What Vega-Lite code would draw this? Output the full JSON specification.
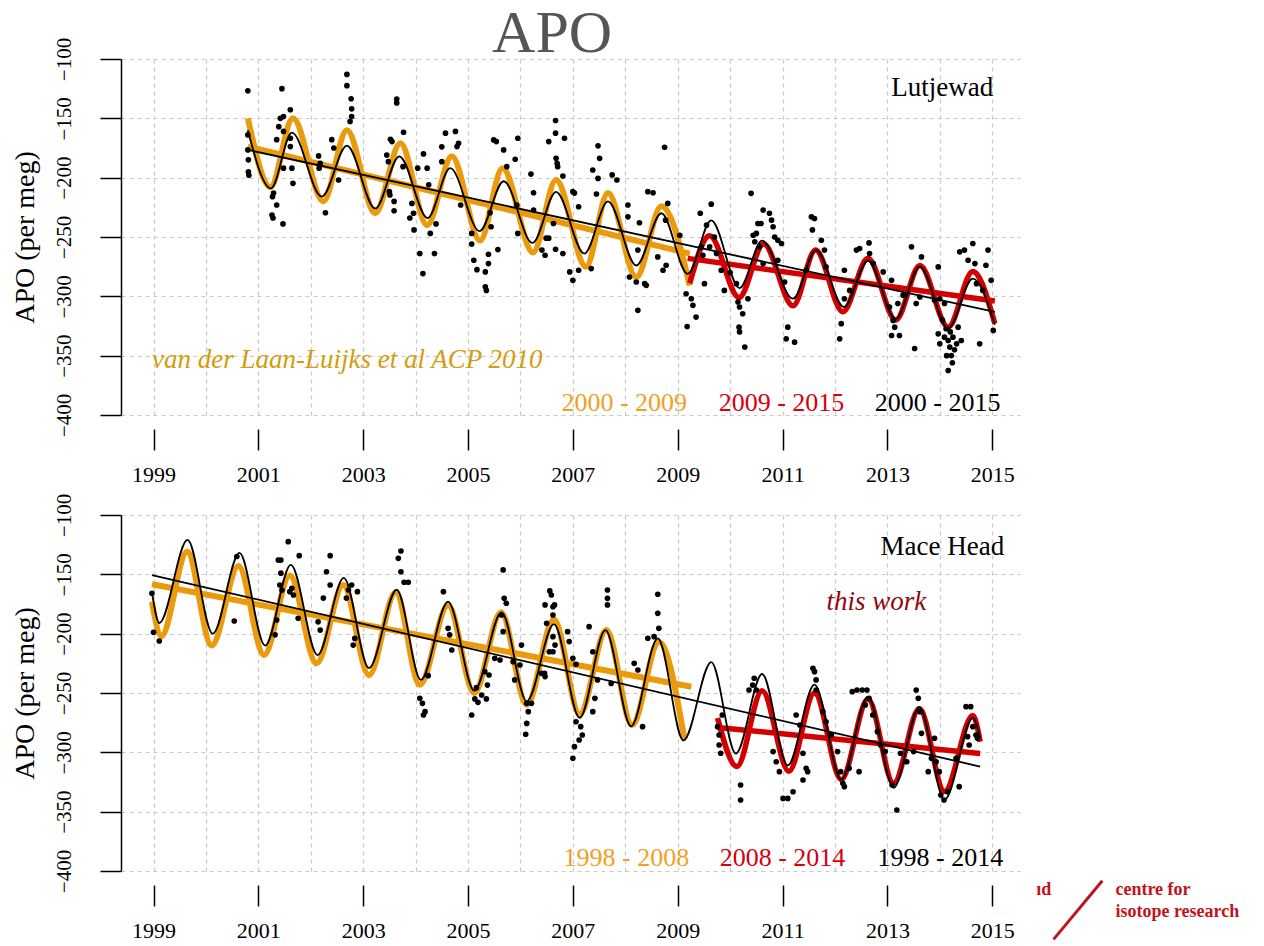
{
  "$schema": "https://vega.github.io/schema/vega-lite/v6.json",
  "padding": {"left": 11, "top": 4, "right": 5, "bottom": 5},
  "config": {
    "font": "Liberation Serif",
    "view": {"stroke": null},
    "axis": {"gridColor": "#c8c8c8", "gridDash": [4, 4], "gridWidth": 1.2, "domainColor": "#000", "tickColor": "#000", "labelColor": "#000", "titleColor": "#000", "labelFont": "Liberation Serif", "titleFont": "Liberation Serif", "titleFontWeight": "normal"}
  },
  "title": {"text": "APO", "fontSize": 60, "font": "Liberation Serif", "fontWeight": "normal", "color": "#555555", "anchor": "middle", "dx": -73, "baseline": "alphabetic", "offset": -75},
  "spacing": 100,
  "bounds": "flush",
  "datasets": {
    "lut_points": [
      {"year":2000.80,"apo":-126.8},{"year":2000.80,"apo":-164},{"year":2000.80,"apo":-176.6},{"year":2000.81,"apo":-185},{"year":2000.81,"apo":-195},{"year":2000.82,"apo":-198},
      {"year":2001.45,"apo":-125},{"year":2001.61,"apo":-142.8},{"year":2001.48,"apo":-148.5},{"year":2001.42,"apo":-150},{"year":2001.39,"apo":-157},{"year":2001.35,"apo":-168},
      {"year":2001.48,"apo":-161},{"year":2001.61,"apo":-166.8},{"year":2001.61,"apo":-173.8},{"year":2001.48,"apo":-192},{"year":2001.64,"apo":-192},{"year":2001.66,"apo":-204.8},
      {"year":2001.29,"apo":-213},{"year":2001.27,"apo":-216},{"year":2001.35,"apo":-223},{"year":2001.26,"apo":-231.5},{"year":2001.28,"apo":-234},{"year":2001.47,"apo":-239},
      {"year":2002.15,"apo":-181.7},{"year":2002.18,"apo":-188},{"year":2002.16,"apo":-192},{"year":2002.40,"apo":-168},{"year":2002.44,"apo":-175},{"year":2002.53,"apo":-202},
      {"year":2002.28,"apo":-229.6},{"year":2002.69,"apo":-113},{"year":2002.69,"apo":-122.5},{"year":2002.77,"apo":-133.5},{"year":2002.78,"apo":-142},{"year":2002.78,"apo":-148.5},
      {"year":2002.75,"apo":-152.7},{"year":2003.52,"apo":-167.6},{"year":2003.55,"apo":-169.6},{"year":2003.77,"apo":-161.7},{"year":2003.45,"apo":-181},{"year":2003.48,"apo":-186.5},
      {"year":2003.50,"apo":-211.8},{"year":2003.51,"apo":-214.6},{"year":2003.59,"apo":-220},{"year":2003.59,"apo":-227.9},{"year":2003.64,"apo":-133.8},{"year":2003.64,"apo":-137},
      {"year":2003.76,"apo":-190.7},{"year":2004.04,"apo":-192},{"year":2004.22,"apo":-192},{"year":2004.15,"apo":-180},{"year":2004.25,"apo":-206},{"year":2003.93,"apo":-221.7},
      {"year":2003.96,"apo":-230},{"year":2003.89,"apo":-234},{"year":2003.97,"apo":-244},{"year":2004.08,"apo":-264},{"year":2004.14,"apo":-280.8},{"year":2004.36,"apo":-264},
      {"year":2004.28,"apo":-247},{"year":2004.39,"apo":-239},{"year":2004.50,"apo":-174},{"year":2004.50,"apo":-186.5},{"year":2004.57,"apo":-162.5},{"year":2004.76,"apo":-161},
      {"year":2004.79,"apo":-173.8},{"year":2004.82,"apo":-171},{"year":2004.86,"apo":-223},{"year":2005.07,"apo":-247},{"year":2005.07,"apo":-256},{"year":2005.11,"apo":-269.6},
      {"year":2005.17,"apo":-277.5},{"year":2005.33,"apo":-279.4},{"year":2005.39,"apo":-272.4},{"year":2005.39,"apo":-264.5},{"year":2005.33,"apo":-292},{"year":2005.35,"apo":-295},
      {"year":2005.42,"apo":-229.6},{"year":2005.44,"apo":-241.4},{"year":2005.57,"apo":-260.6},{"year":2005.49,"apo":-168.2},{"year":2005.54,"apo":-169.6},{"year":2005.68,"apo":-176.6},
      {"year":2005.74,"apo":-190.7},{"year":2005.90,"apo":-184.5},{"year":2005.95,"apo":-166.8},{"year":2005.93,"apo":-223},{"year":2005.95,"apo":-247},{"year":2006.25,"apo":-212.7},
      {"year":2006.20,"apo":-197},{"year":2006.25,"apo":-227.3},{"year":2006.41,"apo":-261},{"year":2006.47,"apo":-265.4},{"year":2006.54,"apo":-251},{"year":2006.54,"apo":-169.6},
      {"year":2006.67,"apo":-151.8},{"year":2006.67,"apo":-162.5},{"year":2006.68,"apo":-183.7},{"year":2006.70,"apo":-188},{"year":2006.63,"apo":-238.6},{"year":2006.67,"apo":-260.3},
      {"year":2006.84,"apo":-166.8},{"year":2006.71,"apo":-190.7},{"year":2006.81,"apo":-198.6},{"year":2006.49,"apo":-251},{"year":2006.81,"apo":-264},{"year":2007.00,"apo":-211.8},
      {"year":2007.03,"apo":-213},{"year":2007.11,"apo":-224.5},{"year":2006.94,"apo":-279.4},{"year":2007.00,"apo":-286.5},{"year":2007.11,"apo":-278},{"year":2007.35,"apo":-276.6},
      {"year":2007.48,"apo":-173.2},{"year":2007.51,"apo":-183.7},{"year":2007.38,"apo":-193.5},{"year":2007.48,"apo":-200.6},{"year":2007.45,"apo":-213.8},{"year":2007.75,"apo":-197.7},
      {"year":2007.84,"apo":-202},{"year":2008.05,"apo":-223},{"year":2008.05,"apo":-233},{"year":2008.08,"apo":-283.7},{"year":2008.21,"apo":-287.9},{"year":2008.27,"apo":-238},
      {"year":2008.24,"apo":-261},{"year":2008.37,"apo":-289.3},{"year":2008.40,"apo":-290.7},{"year":2008.24,"apo":-311.8},{"year":2008.43,"apo":-211.8},{"year":2008.53,"apo":-212.7},
      {"year":2008.62,"apo":-266.8},{"year":2008.72,"apo":-278},{"year":2008.78,"apo":-273.8},{"year":2008.75,"apo":-174.4},{"year":2008.81,"apo":-221.7},{"year":2008.77,"apo":-235.8},
      {"year":2009.04,"apo":-248.5},{"year":2009.16,"apo":-297.8},{"year":2009.26,"apo":-302},{"year":2009.29,"apo":-307.6},{"year":2009.35,"apo":-317.5},{"year":2009.18,"apo":-325.4},
      {"year":2009.43,"apo":-230},{"year":2009.64,"apo":-222.3},{"year":2009.45,"apo":-258.3},{"year":2009.48,"apo":-265.4},{"year":2009.51,"apo":-289.3},{"year":2009.61,"apo":-258.3},
      {"year":2009.74,"apo":-264},{"year":2009.83,"apo":-278},{"year":2009.89,"apo":-295},{"year":2009.55,"apo":-240},{"year":2009.70,"apo":-250},{"year":2010.00,"apo":-280},
      {"year":2010.12,"apo":-289.3},{"year":2010.15,"apo":-304.8},{"year":2010.18,"apo":-309},{"year":2010.24,"apo":-314.7},{"year":2010.17,"apo":-326},{"year":2010.18,"apo":-330},
      {"year":2010.28,"apo":-342.8},{"year":2010.34,"apo":-302},{"year":2010.40,"apo":-213.2},{"year":2010.44,"apo":-248.5},{"year":2010.53,"apo":-238.6},{"year":2010.59,"apo":-238.6},
      {"year":2010.63,"apo":-227.3},{"year":2010.75,"apo":-230},{"year":2010.79,"apo":-235.8},{"year":2010.82,"apo":-241.4},{"year":2010.85,"apo":-250},{"year":2010.91,"apo":-252.7},
      {"year":2010.98,"apo":-255.5},{"year":2010.50,"apo":-247},{"year":2010.47,"apo":-254},{"year":2010.56,"apo":-258.3},{"year":2010.63,"apo":-272.4},{"year":2010.91,"apo":-269.6},
      {"year":2011.04,"apo":-287.9},{"year":2011.10,"apo":-326},{"year":2011.07,"apo":-335.8},{"year":2011.23,"apo":-338.6},{"year":2011.45,"apo":-278},{"year":2011.55,"apo":-233},
      {"year":2011.61,"apo":-234.4},{"year":2011.57,"apo":-244},{"year":2011.74,"apo":-252.7},{"year":2011.80,"apo":-261},{"year":2011.83,"apo":-275.2},{"year":2012.12,"apo":-323},
      {"year":2012.09,"apo":-335.8},{"year":2012.18,"apo":-278},{"year":2012.18,"apo":-302},{"year":2012.28,"apo":-295},{"year":2012.41,"apo":-261},{"year":2012.47,"apo":-259.7},
      {"year":2012.65,"apo":-255},{"year":2012.66,"apo":-264},{"year":2012.73,"apo":-272.4},{"year":2012.92,"apo":-279.4},{"year":2013.04,"apo":-309},{"year":2013.08,"apo":-286.5},
      {"year":2013.11,"apo":-320.3},{"year":2013.14,"apo":-326},{"year":2013.08,"apo":-333},{"year":2013.23,"apo":-333},{"year":2013.20,"apo":-306},{"year":2013.30,"apo":-299},
      {"year":2013.46,"apo":-258.3},{"year":2013.52,"apo":-344},{"year":2013.55,"apo":-306},{"year":2013.62,"apo":-300.6},{"year":2013.65,"apo":-266.8},{"year":2013.97,"apo":-275.2},
      {"year":2014.00,"apo":-302},{"year":2013.97,"apo":-331.6},{"year":2014.00,"apo":-340},{"year":2014.09,"apo":-334.4},{"year":2014.12,"apo":-327.3},{"year":2014.16,"apo":-337.2},
      {"year":2014.19,"apo":-342.8},{"year":2014.22,"apo":-349.9},{"year":2014.16,"apo":-362.5},{"year":2014.25,"apo":-334.4},{"year":2014.32,"apo":-340},{"year":2014.35,"apo":-326},
      {"year":2014.41,"apo":-337.2},{"year":2014.38,"apo":-262.5},{"year":2014.47,"apo":-261},{"year":2014.54,"apo":-269.6},{"year":2014.63,"apo":-255.5},{"year":2014.67,"apo":-272.4},
      {"year":2014.70,"apo":-289.3},{"year":2014.76,"apo":-340},{"year":2014.82,"apo":-295},{"year":2014.88,"apo":-273.8},{"year":2014.92,"apo":-261},{"year":2014.98,"apo":-286.5},
      {"year":2015.02,"apo":-328.7},{"year":2014.09,"apo":-306},{"year":2013.90,"apo":-303.4},{"year":2014.05,"apo":-320},{"year":2014.20,"apo":-330},{"year":2014.28,"apo":-345},
      {"year":2014.13,"apo":-350},{"year":2014.24,"apo":-356}
    ],
    "mh_points": [
      {"year":1998.97,"apo":-166},{"year":1999.00,"apo":-198.9},{"year":1999.11,"apo":-206.2},{"year":2000.54,"apo":-189.3},{"year":2000.59,"apo":-135},
      {"year":2001.32,"apo":-201},{"year":2001.35,"apo":-188.5},{"year":2001.38,"apo":-138},{"year":2001.43,"apo":-138},{"year":2001.43,"apo":-149},{"year":2001.41,"apo":-159},
      {"year":2001.45,"apo":-163.2},{"year":2001.57,"apo":-122.5},{"year":2001.60,"apo":-164.6},{"year":2001.67,"apo":-167.4},{"year":2001.64,"apo":-161.8},{"year":2001.76,"apo":-187},
      {"year":2001.78,"apo":-134.3},{"year":2002.14,"apo":-190},{"year":2002.18,"apo":-197},{"year":2002.30,"apo":-147.8},{"year":2002.37,"apo":-159},{"year":2002.37,"apo":-134.3},
      {"year":2002.24,"apo":-170},{"year":2002.68,"apo":-170},{"year":2002.72,"apo":-163.2},{"year":2002.78,"apo":-159},{"year":2002.89,"apo":-164.6},{"year":2002.81,"apo":-209.6},
      {"year":2002.84,"apo":-204},{"year":2003.67,"apo":-136.5},{"year":2003.72,"apo":-130.3},{"year":2003.72,"apo":-147.8},{"year":2003.78,"apo":-156.7},{"year":2003.86,"apo":-156.7},
      {"year":2004.08,"apo":-254.5},{"year":2004.13,"apo":-258.7},{"year":2004.18,"apo":-265.7},{"year":2004.15,"apo":-268.5},{"year":2004.24,"apo":-235.4},{"year":2004.53,"apo":-164.6},
      {"year":2004.62,"apo":-195.5},{"year":2004.65,"apo":-201},{"year":2004.69,"apo":-213.8},{"year":2005.07,"apo":-268.5},{"year":2005.13,"apo":-255},{"year":2005.16,"apo":-245.5},
      {"year":2005.19,"apo":-257.9},{"year":2005.26,"apo":-251.7},{"year":2005.32,"apo":-232},{"year":2005.37,"apo":-243.3},{"year":2005.35,"apo":-255},{"year":2005.40,"apo":-234.8},
      {"year":2005.51,"apo":-220.8},{"year":2005.61,"apo":-222.2},{"year":2005.67,"apo":-146.3},{"year":2005.69,"apo":-170.2},{"year":2005.73,"apo":-174.4},{"year":2005.67,"apo":-198.3},
      {"year":2005.64,"apo":-184.3},{"year":2005.86,"apo":-223.6},{"year":2005.89,"apo":-239},{"year":2005.99,"apo":-226.4},{"year":2006.02,"apo":-209.6},{"year":2006.12,"apo":-258.7},
      {"year":2006.15,"apo":-265.7},{"year":2006.12,"apo":-275.6},{"year":2006.10,"apo":-284.8},{"year":2006.21,"apo":-258.7},{"year":2006.40,"apo":-233.4},{"year":2006.47,"apo":-236.2},
      {"year":2006.47,"apo":-175.8},{"year":2006.50,"apo":-191.3},{"year":2006.56,"apo":-164},{"year":2006.59,"apo":-167.4},{"year":2006.62,"apo":-177.3},{"year":2006.62,"apo":-202.5},
      {"year":2006.66,"apo":-209.6},{"year":2006.62,"apo":-215.2},{"year":2006.65,"apo":-175.8},{"year":2006.62,"apo":-184.3},{"year":2006.55,"apo":-215.2},{"year":2006.46,"apo":-233.4},
      {"year":2006.90,"apo":-198.3},{"year":2006.93,"apo":-206.7},{"year":2007.00,"apo":-220.8},{"year":2007.06,"apo":-225.8},{"year":2007.06,"apo":-274.2},{"year":2007.15,"apo":-278.4},
      {"year":2007.18,"apo":-285.4},{"year":2007.12,"apo":-289.6},{"year":2007.03,"apo":-295.2},{"year":2007.00,"apo":-305},{"year":2007.31,"apo":-194.1},{"year":2007.38,"apo":-215.2},
      {"year":2007.38,"apo":-265.7},{"year":2007.42,"apo":-254.5},{"year":2007.47,"apo":-239},{"year":2007.66,"apo":-163.2},{"year":2007.66,"apo":-170.2},{"year":2007.66,"apo":-175.8},
      {"year":2007.73,"apo":-241.9},{"year":2008.17,"apo":-225},{"year":2008.24,"apo":-230.6},{"year":2008.33,"apo":-278.4},{"year":2008.43,"apo":-203.9},{"year":2008.55,"apo":-202.5},
      {"year":2008.62,"apo":-166.8},{"year":2008.62,"apo":-182.9},{"year":2008.64,"apo":-195.5},{"year":2009.76,"apo":-278.4},{"year":2009.79,"apo":-285.4},{"year":2009.79,"apo":-293.8},
      {"year":2009.82,"apo":-300.8},{"year":2009.85,"apo":-268.5},{"year":2010.20,"apo":-327.5},{"year":2010.20,"apo":-340.2},{"year":2010.36,"apo":-247.5},{"year":2010.43,"apo":-243.3},
      {"year":2010.46,"apo":-237.6},{"year":2010.50,"apo":-247.5},{"year":2010.82,"apo":-299.4},{"year":2010.88,"apo":-307.9},{"year":2010.94,"apo":-316.3},{"year":2011.01,"apo":-338.8},
      {"year":2011.10,"apo":-338.8},{"year":2011.20,"apo":-333.2},{"year":2011.26,"apo":-268.5},{"year":2011.33,"apo":-277},{"year":2011.39,"apo":-300.8},{"year":2011.45,"apo":-313.5},
      {"year":2011.39,"apo":-323.3},{"year":2011.48,"apo":-316.3},{"year":2011.58,"apo":-229.2},{"year":2011.61,"apo":-232},{"year":2011.64,"apo":-239},{"year":2011.64,"apo":-247.5},
      {"year":2011.77,"apo":-265.7},{"year":2011.83,"apo":-274.2},{"year":2011.93,"apo":-285.4},{"year":2012.05,"apo":-299.4},{"year":2012.11,"apo":-316.3},{"year":2012.15,"apo":-326.1},
      {"year":2012.18,"apo":-328.9},{"year":2012.27,"apo":-313.5},{"year":2012.46,"apo":-316.3},{"year":2012.33,"apo":-248.9},{"year":2012.42,"apo":-247.5},{"year":2012.52,"apo":-247.5},
      {"year":2012.61,"apo":-247.5},{"year":2012.65,"apo":-254.5},{"year":2012.58,"apo":-260.1},{"year":2012.72,"apo":-268.5},{"year":2012.81,"apo":-282.6},{"year":2012.87,"apo":-293.8},
      {"year":2012.96,"apo":-299.4},{"year":2013.09,"apo":-327.5},{"year":2013.18,"apo":-348.6},{"year":2013.25,"apo":-300.8},{"year":2013.37,"apo":-307.9},{"year":2013.50,"apo":-299.4},
      {"year":2013.55,"apo":-247.5},{"year":2013.59,"apo":-254.5},{"year":2013.62,"apo":-265.7},{"year":2013.65,"apo":-284},{"year":2013.78,"apo":-316.3},{"year":2013.84,"apo":-305},
      {"year":2013.90,"apo":-288.2},{"year":2013.93,"apo":-307.9},{"year":2013.99,"apo":-316.3},{"year":2014.02,"apo":-336},{"year":2014.08,"apo":-340.2},{"year":2014.15,"apo":-333.2},
      {"year":2014.31,"apo":-305},{"year":2014.37,"apo":-328.9},{"year":2014.50,"apo":-261.5},{"year":2014.59,"apo":-261.5},{"year":2014.63,"apo":-278.4},{"year":2014.56,"apo":-293.8},
      {"year":2014.53,"apo":-286.8},{"year":2014.69,"apo":-285.4},{"year":2014.72,"apo":-288.2}
    ],
    "lut_curves": [
      {"series":"a_fit","year":2000.80,"apo":-150},{"series":"a_fit","year":2001.23,"apo":-208},{"series":"a_fit","year":2001.66,"apo":-150},{"series":"a_fit","year":2002.24,"apo":-220},
      {"series":"a_fit","year":2002.69,"apo":-160},{"series":"a_fit","year":2003.23,"apo":-230},{"series":"a_fit","year":2003.71,"apo":-171},{"series":"a_fit","year":2004.22,"apo":-240},
      {"series":"a_fit","year":2004.69,"apo":-182},{"series":"a_fit","year":2005.23,"apo":-253},{"series":"a_fit","year":2005.66,"apo":-192},{"series":"a_fit","year":2006.24,"apo":-263},
      {"series":"a_fit","year":2006.68,"apo":-202},{"series":"a_fit","year":2007.25,"apo":-275},{"series":"a_fit","year":2007.67,"apo":-213},{"series":"a_fit","year":2008.21,"apo":-284},
      {"series":"a_fit","year":2008.69,"apo":-224},{"series":"a_fit","year":2009.23,"apo":-291},
      {"series":"a_trend","year":2000.80,"apo":-173.8},{"series":"a_trend","year":2009.23,"apo":-264},
      {"series":"b_fit","year":2009.23,"apo":-289},{"series":"b_fit","year":2009.61,"apo":-249},{"series":"b_fit","year":2010.17,"apo":-301},{"series":"b_fit","year":2010.64,"apo":-256},
      {"series":"b_fit","year":2011.20,"apo":-308},{"series":"b_fit","year":2011.63,"apo":-261},{"series":"b_fit","year":2012.15,"apo":-313},{"series":"b_fit","year":2012.63,"apo":-268},
      {"series":"b_fit","year":2013.16,"apo":-320},{"series":"b_fit","year":2013.62,"apo":-274},{"series":"b_fit","year":2014.16,"apo":-326},{"series":"b_fit","year":2014.63,"apo":-279},
      {"series":"b_fit","year":2015.05,"apo":-323},
      {"series":"b_trend","year":2009.19,"apo":-268},{"series":"b_trend","year":2015.05,"apo":-304},
      {"series":"all_fit","year":2000.80,"apo":-160},{"series":"all_fit","year":2001.24,"apo":-209},{"series":"all_fit","year":2001.64,"apo":-162},{"series":"all_fit","year":2002.21,"apo":-216},
      {"series":"all_fit","year":2002.69,"apo":-173},{"series":"all_fit","year":2003.23,"apo":-226},{"series":"all_fit","year":2003.69,"apo":-182},{"series":"all_fit","year":2004.23,"apo":-234},
      {"series":"all_fit","year":2004.66,"apo":-192},{"series":"all_fit","year":2005.22,"apo":-245},{"series":"all_fit","year":2005.68,"apo":-203},{"series":"all_fit","year":2006.23,"apo":-255},
      {"series":"all_fit","year":2006.68,"apo":-212},{"series":"all_fit","year":2007.22,"apo":-264},{"series":"all_fit","year":2007.67,"apo":-220},{"series":"all_fit","year":2008.21,"apo":-274},
      {"series":"all_fit","year":2008.69,"apo":-230},{"series":"all_fit","year":2009.19,"apo":-281},{"series":"all_fit","year":2009.64,"apo":-236},{"series":"all_fit","year":2010.18,"apo":-293},
      {"series":"all_fit","year":2010.61,"apo":-253},{"series":"all_fit","year":2011.20,"apo":-302},{"series":"all_fit","year":2011.64,"apo":-261},{"series":"all_fit","year":2012.17,"apo":-309},
      {"series":"all_fit","year":2012.63,"apo":-270},{"series":"all_fit","year":2013.16,"apo":-319},{"series":"all_fit","year":2013.62,"apo":-275},{"series":"all_fit","year":2014.16,"apo":-327},
      {"series":"all_fit","year":2014.63,"apo":-285},{"series":"all_fit","year":2015.05,"apo":-324},
      {"series":"all_trend","year":2000.80,"apo":-176.6},{"series":"all_trend","year":2015.05,"apo":-313}
    ],
    "mh_curves": [
      {"series":"a_fit","year":1998.97,"apo":-173},{"series":"a_fit","year":1999.15,"apo":-202},{"series":"a_fit","year":1999.64,"apo":-131},{"series":"a_fit","year":2000.11,"apo":-210},
      {"series":"a_fit","year":2000.62,"apo":-143},{"series":"a_fit","year":2001.11,"apo":-218},{"series":"a_fit","year":2001.60,"apo":-151},{"series":"a_fit","year":2002.11,"apo":-225},
      {"series":"a_fit","year":2002.62,"apo":-159},{"series":"a_fit","year":2003.11,"apo":-235},{"series":"a_fit","year":2003.62,"apo":-165},{"series":"a_fit","year":2004.08,"apo":-243},
      {"series":"a_fit","year":2004.62,"apo":-176},{"series":"a_fit","year":2005.12,"apo":-250},{"series":"a_fit","year":2005.63,"apo":-182},{"series":"a_fit","year":2006.12,"apo":-260},
      {"series":"a_fit","year":2006.64,"apo":-188},{"series":"a_fit","year":2007.13,"apo":-268},{"series":"a_fit","year":2007.64,"apo":-197},{"series":"a_fit","year":2008.13,"apo":-277},
      {"series":"a_fit","year":2008.64,"apo":-207},{"series":"a_fit","year":2009.13,"apo":-289},
      {"series":"a_trend","year":1998.97,"apo":-158.4},{"series":"a_trend","year":2009.26,"apo":-244.7},
      {"series":"b_fit","year":2009.76,"apo":-271},{"series":"b_fit","year":2010.13,"apo":-312},{"series":"b_fit","year":2010.61,"apo":-248},{"series":"b_fit","year":2011.12,"apo":-316},
      {"series":"b_fit","year":2011.61,"apo":-250},{"series":"b_fit","year":2012.12,"apo":-323},{"series":"b_fit","year":2012.63,"apo":-255},{"series":"b_fit","year":2013.12,"apo":-326},
      {"series":"b_fit","year":2013.61,"apo":-263},{"series":"b_fit","year":2014.09,"apo":-333},{"series":"b_fit","year":2014.63,"apo":-269},{"series":"b_fit","year":2014.77,"apo":-291},
      {"series":"b_trend","year":2009.76,"apo":-279},{"series":"b_trend","year":2014.77,"apo":-301},
      {"series":"all_fit","year":1998.97,"apo":-165},{"series":"all_fit","year":1999.11,"apo":-191},{"series":"all_fit","year":1999.65,"apo":-121},{"series":"all_fit","year":2000.13,"apo":-200},
      {"series":"all_fit","year":2000.64,"apo":-132},{"series":"all_fit","year":2001.13,"apo":-210},{"series":"all_fit","year":2001.62,"apo":-142},{"series":"all_fit","year":2002.13,"apo":-218},
      {"series":"all_fit","year":2002.63,"apo":-153},{"series":"all_fit","year":2003.11,"apo":-229},{"series":"all_fit","year":2003.64,"apo":-163},{"series":"all_fit","year":2004.10,"apo":-239},
      {"series":"all_fit","year":2004.62,"apo":-173},{"series":"all_fit","year":2005.12,"apo":-248},{"series":"all_fit","year":2005.64,"apo":-182},{"series":"all_fit","year":2006.12,"apo":-257},
      {"series":"all_fit","year":2006.64,"apo":-192},{"series":"all_fit","year":2007.13,"apo":-271},{"series":"all_fit","year":2007.62,"apo":-197},{"series":"all_fit","year":2008.11,"apo":-278},
      {"series":"all_fit","year":2008.62,"apo":-204},{"series":"all_fit","year":2009.11,"apo":-290},{"series":"all_fit","year":2009.64,"apo":-224},{"series":"all_fit","year":2010.11,"apo":-301},
      {"series":"all_fit","year":2010.61,"apo":-234},{"series":"all_fit","year":2011.10,"apo":-311},{"series":"all_fit","year":2011.61,"apo":-243},{"series":"all_fit","year":2012.12,"apo":-323},
      {"series":"all_fit","year":2012.63,"apo":-253},{"series":"all_fit","year":2013.12,"apo":-330},{"series":"all_fit","year":2013.61,"apo":-262},{"series":"all_fit","year":2014.09,"apo":-340},
      {"series":"all_fit","year":2014.63,"apo":-271},{"series":"all_fit","year":2014.77,"apo":-288},
      {"series":"all_trend","year":1998.97,"apo":-150.6},{"series":"all_trend","year":2014.77,"apo":-312}
    ],
    "lut_text": [
      {"kind":"site","label":"Lutjewad","year":2015.02,"apo":-130.9},
      {"kind":"cite","label":"van der Laan-Luijks et al ACP 2010","year":1998.97,"apo":-360.4},
      {"kind":"a","label":"2000 - 2009","year":2007.98,"apo":-397},
      {"kind":"b","label":"2009 - 2015","year":2010.98,"apo":-397},
      {"kind":"all","label":"2000 - 2015","year":2013.96,"apo":-397}
    ],
    "mh_text": [
      {"kind":"site","label":"Mace Head","year":2015.23,"apo":-133.7},
      {"kind":"cite","label":"this work","year":2012.79,"apo":-180},
      {"kind":"a","label":"1998 - 2008","year":2008.02,"apo":-396},
      {"kind":"b","label":"2008 - 2014","year":2011.0,"apo":-396},
      {"kind":"all","label":"1998 - 2014","year":2014.01,"apo":-396},
      {"kind":"logo","label":"ıd","year":2015.84,"apo":-420.2},
      {"kind":"logo","label":"centre for","year":2017.35,"apo":-420.2},
      {"kind":"logo","label":"isotope research","year":2017.35,"apo":-438.5}
    ],
    "mh_logo_stroke": [
      {"year":2016.17,"apo":-457.6,"year2":2017.10,"apo2":-408.2}
    ]
  },
  "vconcat": [
    {
      "width": 899, "height": 356,
      "encoding": {
        "x": {"field": "year", "type": "quantitative", "scale": {"domain": [1998.38, 2015.53], "nice": false, "zero": false},
              "axis": {"values": [1999,2000,2001,2002,2003,2004,2005,2006,2007,2008,2009,2010,2011,2012,2013,2014,2015], "format": "d", "title": null, "domain": false, "offset": 14, "tickSize": 21, "tickWidth": 1.5,
                       "tickOpacity": {"condition": {"test": "datum.value % 2 == 0", "value": 0}, "value": 1},
                       "labelExpr": "datum.value % 2 == 1 ? datum.label : ''", "labelFontSize": 22, "labelPadding": 14, "labelFlush": false, "labelOverlap": false, "grid": true}},
        "y": {"field": "apo", "type": "quantitative", "scale": {"domain": [-400, -100], "nice": false, "zero": false},
              "axis": {"values": [-400,-350,-300,-250,-200,-150,-100], "title": "APO (per meg)", "titleFontSize": 28, "titlePadding": 14, "tickSize": 21, "tickWidth": 1.5, "domainWidth": 1.5,
                       "labelAngle": -90, "labelAlign": "center", "labelBaseline": "bottom", "labelFontSize": 21, "labelPadding": 26, "labelFlush": false, "labelOverlap": false, "grid": true}}
      },
      "layer": [
        {"data": {"values": [{}]}, "mark": {"type": "rule", "color": "#000", "strokeWidth": 1.5}, "encoding": {"x": {"datum": 1999}, "x2": {"datum": 2015}, "y": {"datum": -411.8}}},
        {"data": {"name": "lut_curves"}, "transform": [{"filter": "datum.series == 'a_fit' || datum.series == 'a_trend'"}], "mark": {"type": "line", "interpolate": "monotone", "color": "#EB9A0C", "strokeWidth": 6}, "encoding": {"detail": {"field": "series"}}},
        {"data": {"name": "lut_curves"}, "transform": [{"filter": "datum.series == 'b_fit' || datum.series == 'b_trend'"}], "mark": {"type": "line", "interpolate": "monotone", "color": "#D40000", "strokeWidth": 5.5}, "encoding": {"detail": {"field": "series"}}},
        {"data": {"name": "lut_points"}, "mark": {"type": "circle", "color": "#000", "size": 32, "opacity": 1}},
        {"data": {"name": "lut_curves"}, "transform": [{"filter": "datum.series == 'all_fit' || datum.series == 'all_trend'"}], "mark": {"type": "line", "interpolate": "monotone", "color": "#000", "strokeWidth": 1.8}, "encoding": {"detail": {"field": "series"}}},
        {"data": {"name": "lut_text"}, "transform": [{"filter": "datum.kind == 'site'"}], "mark": {"type": "text", "align": "right", "baseline": "alphabetic", "fontSize": 27, "color": "#000"}, "encoding": {"text": {"field": "label"}}},
        {"data": {"name": "lut_text"}, "transform": [{"filter": "datum.kind == 'cite'"}], "mark": {"type": "text", "align": "left", "baseline": "alphabetic", "fontSize": 27, "fontStyle": "italic", "color": "#D29E0C"}, "encoding": {"text": {"field": "label"}}},
        {"data": {"name": "lut_text"}, "transform": [{"filter": "datum.kind == 'a' || datum.kind == 'b' || datum.kind == 'all'"}], "mark": {"type": "text", "align": "center", "baseline": "alphabetic", "fontSize": 26},
         "encoding": {"text": {"field": "label"}, "color": {"field": "kind", "type": "nominal", "scale": {"domain": ["a","b","all"], "range": ["#F0A125","#D7000F","#000000"]}, "legend": null}}}
      ]
    },
    {
      "width": 899, "height": 356,
      "encoding": {
        "x": {"field": "year", "type": "quantitative", "scale": {"domain": [1998.38, 2015.53], "nice": false, "zero": false},
              "axis": {"values": [1999,2000,2001,2002,2003,2004,2005,2006,2007,2008,2009,2010,2011,2012,2013,2014,2015], "format": "d", "title": null, "domain": false, "offset": 14, "tickSize": 21, "tickWidth": 1.5,
                       "tickOpacity": {"condition": {"test": "datum.value % 2 == 0", "value": 0}, "value": 1},
                       "labelExpr": "datum.value % 2 == 1 ? datum.label : ''", "labelFontSize": 22, "labelPadding": 14, "labelFlush": false, "labelOverlap": false, "grid": true}},
        "y": {"field": "apo", "type": "quantitative", "scale": {"domain": [-400, -100], "nice": false, "zero": false},
              "axis": {"values": [-400,-350,-300,-250,-200,-150,-100], "title": "APO (per meg)", "titleFontSize": 28, "titlePadding": 14, "tickSize": 21, "tickWidth": 1.5, "domainWidth": 1.5,
                       "labelAngle": -90, "labelAlign": "center", "labelBaseline": "bottom", "labelFontSize": 21, "labelPadding": 26, "labelFlush": false, "labelOverlap": false, "grid": true}}
      },
      "layer": [
        {"data": {"values": [{}]}, "mark": {"type": "rule", "color": "#000", "strokeWidth": 1.5}, "encoding": {"x": {"datum": 1999}, "x2": {"datum": 2015}, "y": {"datum": -411.8}}},
        {"data": {"name": "mh_curves"}, "transform": [{"filter": "datum.series == 'a_fit' || datum.series == 'a_trend'"}], "mark": {"type": "line", "interpolate": "monotone", "color": "#EB9A0C", "strokeWidth": 6}, "encoding": {"detail": {"field": "series"}}},
        {"data": {"name": "mh_curves"}, "transform": [{"filter": "datum.series == 'b_fit' || datum.series == 'b_trend'"}], "mark": {"type": "line", "interpolate": "monotone", "color": "#D40000", "strokeWidth": 5.5}, "encoding": {"detail": {"field": "series"}}},
        {"data": {"name": "mh_points"}, "mark": {"type": "circle", "color": "#000", "size": 32, "opacity": 1}},
        {"data": {"name": "mh_curves"}, "transform": [{"filter": "datum.series == 'all_fit' || datum.series == 'all_trend'"}], "mark": {"type": "line", "interpolate": "monotone", "color": "#000", "strokeWidth": 1.8}, "encoding": {"detail": {"field": "series"}}},
        {"data": {"name": "mh_text"}, "transform": [{"filter": "datum.kind == 'site'"}], "mark": {"type": "text", "align": "right", "baseline": "alphabetic", "fontSize": 27, "color": "#000"}, "encoding": {"text": {"field": "label"}}},
        {"data": {"name": "mh_text"}, "transform": [{"filter": "datum.kind == 'cite'"}], "mark": {"type": "text", "align": "center", "baseline": "alphabetic", "fontSize": 27, "fontStyle": "italic", "color": "#8E0A0A"}, "encoding": {"text": {"field": "label"}}},
        {"data": {"name": "mh_text"}, "transform": [{"filter": "datum.kind == 'a' || datum.kind == 'b' || datum.kind == 'all'"}], "mark": {"type": "text", "align": "center", "baseline": "alphabetic", "fontSize": 26},
         "encoding": {"text": {"field": "label"}, "color": {"field": "kind", "type": "nominal", "scale": {"domain": ["a","b","all"], "range": ["#F0A125","#D7000F","#000000"]}, "legend": null}}},
        {"data": {"name": "mh_text"}, "transform": [{"filter": "datum.kind == 'logo'"}], "mark": {"type": "text", "align": "left", "baseline": "alphabetic", "fontSize": 18, "fontWeight": "bold", "color": "#C0141C"}, "encoding": {"text": {"field": "label"}}},
        {"data": {"name": "mh_logo_stroke"}, "mark": {"type": "rule", "color": "#C0141C", "strokeWidth": 3}, "encoding": {"x2": {"field": "year2"}, "y2": {"field": "apo2"}}}
      ]
    }
  ]
}
